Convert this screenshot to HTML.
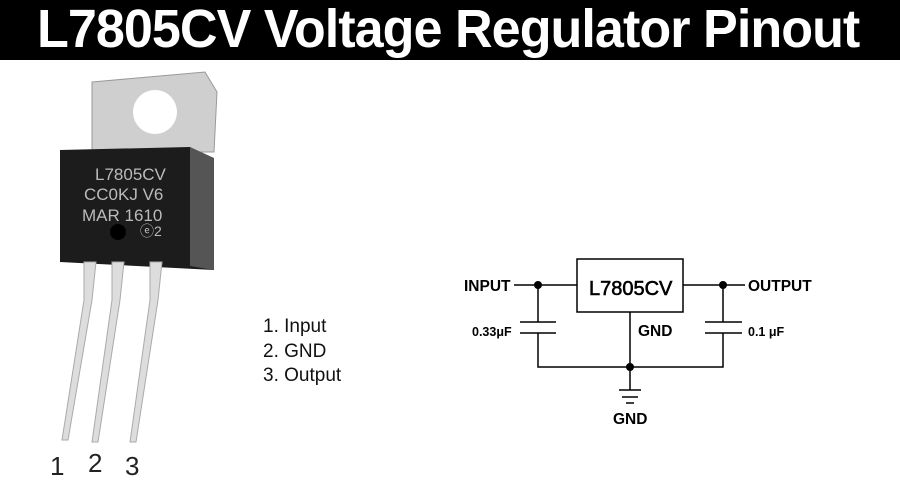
<!DOCTYPE html><html><head><style>
body{margin:0;width:900px;height:494px;background:#fff;position:relative;overflow:hidden;font-family:"Liberation Sans",sans-serif}
.t{position:absolute;left:0;top:0;width:900px;height:60px;background:#000}
.t span{position:absolute;left:37px;top:-2px;color:#fff;font-weight:bold;font-size:54px;white-space:nowrap;transform-origin:0 0;transform:scaleX(0.965);letter-spacing:-1px}
.l{position:absolute;left:263px;top:315px;font-size:19px;line-height:24.5px;color:#111}
</style></head><body>
<div class="t"><span>L7805CV Voltage Regulator Pinout</span></div>
<svg width="900" height="494" style="position:absolute;left:0;top:0">
<path d="M92 82 L205 72 L217 92 L214 152 L92 152 Z" fill="#cfcfcf" stroke="#999"/>
<circle cx="155" cy="112" r="22" fill="#fff"/>
<path d="M60 150 L190 147 L214 160 L214 270 L60 262 Z" fill="#1c1c1c"/>
<path d="M190 147 L214 158 L214 270 L190 266 Z" fill="#555"/>
<circle cx="118" cy="232" r="8" fill="#000"/>
<g fill="#ddd" stroke="#aaa" stroke-width="1">
<path d="M84 262 L96 262 L92 300 L68 440 L62 440 L84 300 Z"/>
<path d="M112 262 L124 262 L120 300 L98 442 L92 442 L112 300 Z"/>
<path d="M150 262 L162 262 L158 300 L136 442 L130 442 L150 300 Z"/>
</g>
<g fill="#bbb" font-size="17" font-family="Liberation Sans">
<text x="95" y="180">L7805CV</text><text x="84" y="200">CC0KJ  V6</text><text x="82" y="221">MAR  1610</text><text x="140" y="236" font-size="14">ⓔ2</text>
</g>
<g font-size="26" fill="#222"><text x="50" y="475">1</text><text x="88" y="472">2</text><text x="125" y="475">3</text></g>
<g stroke="#000" stroke-width="1.5" fill="none">
<rect x="577" y="259" width="106" height="53"/>
<path d="M514 285 H577 M683 285 H745 M538 285 V322 M538 333 V367 H723 V333 M723 322 V285 M630 312 V390"/>
<path d="M520 322 H556 M520 333 H556 M705 322 H742 M705 333 H742 M619 390 H641 M622 397 H638 M626 403 H634"/>
</g>
<g fill="#000"><circle cx="538" cy="285" r="4"/><circle cx="723" cy="285" r="4"/><circle cx="630" cy="367" r="4"/></g>
<g font-weight="bold" font-size="15.5" fill="#000">
<text x="464" y="291">INPUT</text><text x="748" y="291">OUTPUT</text><text x="638" y="336">GND</text><text x="613" y="424">GND</text>
<text x="472" y="336" font-size="12.5">0.33μF</text><text x="748" y="336" font-size="12.5">0.1 μF</text>
<text x="589" y="295" font-size="20" font-weight="normal" stroke="#000" stroke-width="0.6">L7805CV</text>
</g>
</svg>
<div class="l">1. Input<br>2. GND<br>3. Output</div>
</body></html>
